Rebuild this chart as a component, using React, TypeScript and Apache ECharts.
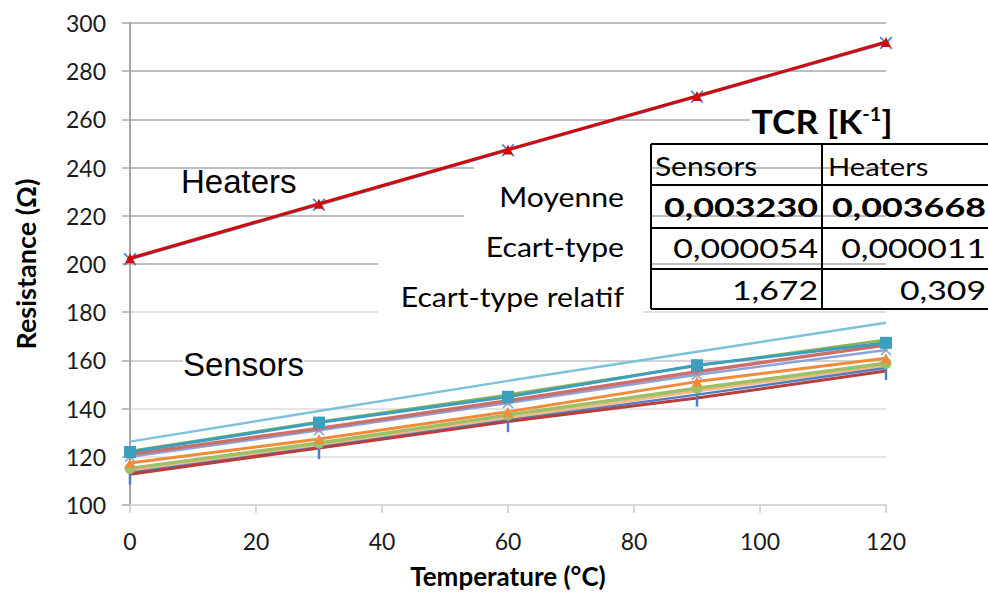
import React, { useEffect, useRef } from "react";
import * as echarts from "echarts";

const temps = [0, 30, 60, 90, 120];
const yTicks = [100, 120, 140, 160, 180, 200, 220, 240, 260, 280, 300];

const heaterBlue = [202.0, 224.6, 247.2, 269.4, 291.7];
const heaterRed = [202.4, 225.0, 247.5, 269.7, 292.1];

const sensorAqua = [126.3, 139.0, 151.5, 163.6, 175.6];
const sensorOlive = [122.4, 134.6, 145.8, 157.8, 168.6];
const sensorTeal = [122.0, 134.2, 144.9, 158.0, 167.3];
const sensorRose = [121.0, 131.8, 143.3, 155.3, 166.4];
const sensorLavender = [120.0, 131.0, 142.3, 154.0, 164.3];
const sensorOrange = [117.4, 127.4, 138.7, 151.2, 160.9];
const sensorGreen = [115.2, 125.7, 137.3, 148.4, 158.8];
const sensorPeach = [114.0, 124.8, 136.0, 147.3, 157.8];
const sensorBlue = [113.4, 124.0, 135.2, 145.8, 156.8];
const sensorRed = [112.8, 123.6, 134.6, 144.4, 155.6];

const tableTitle = "TCR [K";
const tableCols = ["Sensors", "Heaters"];
const rowLabels = ["Moyenne", "Ecart-type", "Ecart-type relatif"];
const sensorStats = ["0,003230", "0,000054", "1,672"];
const heaterStats = ["0,003668", "0,000011", "0,309"];

const CAL = "Lato, 'Open Sans', sans-serif";
const ARIAL = "'Liberation Sans', Arial, sans-serif";

function asteriskPath(): string {
  const pts: string[] = [];
  const n = 16;
  for (let i = 0; i < n; i++) {
    const a = (i * Math.PI * 2) / n;
    const r = i % 2 === 0 ? 10 : 2;
    pts.push((i === 0 ? "M" : "L") + (10 + r * Math.cos(a)).toFixed(2) + "," + (10 + r * Math.sin(a)).toFixed(2));
  }
  return "path://" + pts.join(" ") + " Z";
}
const X_PATH = "path://M0,1 L1,0 L5,4 L9,0 L10,1 L6,5 L10,9 L9,10 L5,6 L1,10 L0,9 L4,5 Z";
const DASH_PATH = "path://M0,0 L1,0 L1,10 L0,10 Z";

function pairs(vals: number[]) {
  return temps.map((t, i) => [t, vals[i]]);
}

function line(name: string, vals: number[], color: string, width: number, symbol: any, size: any, extra: any = {}) {
  return {
    name,
    type: "line",
    data: pairs(vals),
    symbol,
    symbolSize: size,
    showSymbol: symbol !== "none",
    lineStyle: { color, width },
    itemStyle: { color },
    z: 2,
    ...extra,
  };
}

export default function App() {
  const ref = useRef<HTMLDivElement>(null);
  useEffect(() => {
    if (!ref.current) return;
    const chart = echarts.init(ref.current, undefined, { renderer: "svg" });
    const star = asteriskPath();
    const splitColors = yTicks.map((v) => (v <= 140 ? "#dcdcdc" : v === 160 ? "#c4c4c4" : v === 180 ? "#d6d6d6" : "#a8a8a8"));

    const tableLeft = 651;
    const tableMid = 822;
    const tableRight = 992;
    const rowY = [144, 185, 228, 269, 309];
    const tableLines: any[] = [];
    rowY.forEach((y) => {
      tableLines.push({ type: "line", z: 10, shape: { x1: tableLeft, y1: y, x2: tableRight, y2: y }, style: { stroke: "#000", lineWidth: 2 } });
    });
    [tableLeft, tableMid].forEach((x) => {
      tableLines.push({ type: "line", z: 10, shape: { x1: x, y1: rowY[0], x2: x, y2: rowY[4] }, style: { stroke: "#000", lineWidth: 2 } });
    });

    const txt = (text: string, x: number, y: number, size: number, align: string, weight = "normal", family = CAL, sx = 1, extra: any = {}) => ({
      type: "text",
      z: 11,
      x,
      y,
      scaleX: sx,
      style: { text, fill: "#000", fontSize: size, fontFamily: family, fontWeight: weight, align, verticalAlign: "middle", ...extra },
    });

    const rowCenters = [207, 248, 290];
    const labelCenters = [197, 247, 297];

    const graphics: any[] = [
      // white boxes hiding gridlines behind labels
      { type: "rect", z: 1, shape: { x: 474, y: 160, width: 177, height: 16 }, style: { fill: "#fff" } },
      { type: "rect", z: 1, shape: { x: 464, y: 208, width: 187, height: 16 }, style: { fill: "#fff" } },
      { type: "rect", z: 1, shape: { x: 378, y: 256, width: 273, height: 16 }, style: { fill: "#fff" } },
      { type: "rect", z: 1, shape: { x: 378, y: 304, width: 265, height: 16 }, style: { fill: "#fff" } },
      { type: "rect", z: 1, shape: { x: 750, y: 102, width: 140, height: 36 }, style: { fill: "#fff" } },
      ...tableLines,
      txt("Heaters", 181, 181, 33, "left", "normal", ARIAL),
      txt("Sensors", 183, 364, 33, "left", "normal", ARIAL, 1, { backgroundColor: "#fff" }),
      {
        type: "text",
        z: 11,
        x: 822,
        y: 122,
        scaleX: 1.11,
        style: {
          text: "{b|" + tableTitle + "}{s|-1}{b|]}",
          align: "center",
          verticalAlign: "middle",
          rich: {
            b: { fontSize: 32, fontWeight: "bold", fontFamily: CAL, fill: "#000", height: 36 },
            s: { fontSize: 18, fontWeight: "bold", fontFamily: CAL, fill: "#000", verticalAlign: "top", height: 36, padding: [0, 0, 16, 0] },
          },
        },
      },
      txt(tableCols[0], 655, 166, 26, "left", "normal", CAL, 1.15),
      txt(tableCols[1], 828, 166, 26, "left", "normal", CAL, 1.12),
      ...rowLabels.map((l, i) => txt(l, 624, labelCenters[i], 26, "right", "normal", CAL, 1.16)),
      ...sensorStats.map((v, i) => txt(v, 818, rowCenters[i], 26, "right", i === 0 ? "bold" : "normal", CAL, i === 0 ? 1.38 : 1.3)),
      ...heaterStats.map((v, i) => txt(v, 986, rowCenters[i], 26, "right", i === 0 ? "bold" : "normal", CAL, i === 0 ? 1.38 : 1.3)),
    ];

    chart.setOption({
      animation: false,
      backgroundColor: "#fff",
      grid: { left: 130, right: 102, top: 23, bottom: 87, containLabel: false, outerBoundsMode: "none" },
      xAxis: {
        type: "value",
        min: 0,
        max: 120,
        interval: 20,
        name: "Temperature (°C)",
        nameLocation: "middle",
        nameGap: 58,
        nameTextStyle: { fontFamily: CAL, fontWeight: "bold", fontSize: 26, color: "#000" },
        axisLine: { show: true, lineStyle: { color: "#d4d4d4", width: 1.5 } },
        axisTick: { show: true, length: 8, lineStyle: { color: "#c8c8c8", width: 1.5 } },
        axisLabel: { fontFamily: CAL, fontSize: 23, color: "#1a1a1a", margin: 24 },
        splitLine: { show: false },
      },
      yAxis: {
        type: "value",
        min: 100,
        max: 300,
        interval: 20,
        name: "Resistance (Ω)",
        nameLocation: "middle",
        nameGap: 91,
        nameTextStyle: { fontFamily: CAL, fontWeight: "bold", fontSize: 27, color: "#000" },
        axisLine: { show: true, lineStyle: { color: "#8c8c8c", width: 1.5 } },
        axisTick: { show: true, length: 8, lineStyle: { color: "#a8a8a8", width: 1.5 } },
        axisLabel: { fontFamily: CAL, fontSize: 23, color: "#1a1a1a", margin: 24 },
        splitLine: { show: true, lineStyle: { color: splitColors, width: 1.5 } },
      },
      series: [
        line("Sensor 1", sensorAqua, "#7cc2da", 2.5, "none", 0),
        line("Sensor 2", sensorOlive, "#8fb24e", 2.5, "none", 0),
        line("Sensor 8", sensorPeach, "#f7b98a", 3, "none", 0),
        line("Sensor 9", sensorBlue, "#4f7fc0", 2.5, DASH_PATH, [2.5, 14], { symbolOffset: [0, 5] }),
        line("Sensor 10", sensorRed, "#bb3c3c", 3, "none", 0),
        line("Sensor 7", sensorGreen, "#9dbf66", 3.5, "circle", 11),
        line("Sensor 6", sensorOrange, "#f28a38", 3, "triangle", 10),
        line("Sensor 5", sensorLavender, "#8aa4d8", 2.5, X_PATH, 11),
        line("Sensor 4", sensorRose, "#cc6e6a", 3.5, star, 14),
        line("Sensor 3", sensorTeal, "#3aa0bd", 3, "rect", 12),
        line("Heater 1", heaterBlue, "#5b83c2", 2.5, X_PATH, 13, { z: 3 }),
        line("Heater 2", heaterRed, "#cf0a0a", 3, "triangle", 10, { z: 4 }),
      ],
      graphic: graphics,
    });
    return () => chart.dispose();
  }, []);
  return <div ref={ref} style={{ position: "fixed", left: 0, top: 0, width: 988, height: 592 }} />;
}
